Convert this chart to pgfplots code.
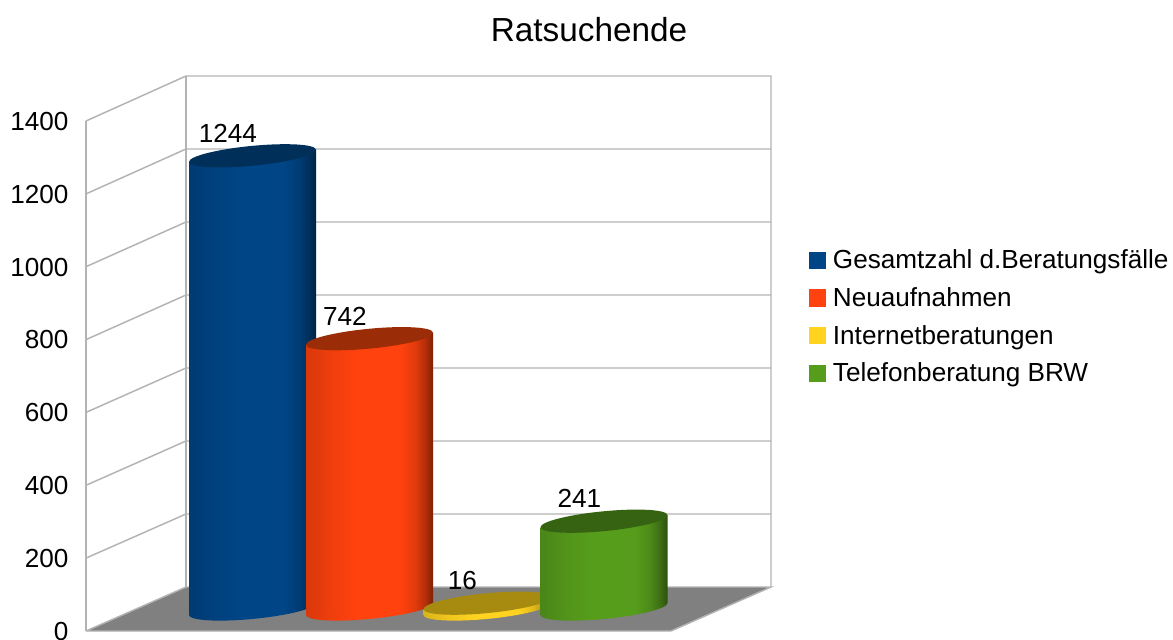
\documentclass[border=0pt]{standalone}
\usepackage{pgfplots}
\pgfplotsset{compat=1.18}
\usepackage{fontspec}
\setmainfont{Liberation Sans}
\newlength{\px}\setlength{\px}{0.75pt}
\definecolor{cBlue}{HTML}{004586}
\definecolor{cRed}{HTML}{FF420E}
\definecolor{cYel}{HTML}{FFD320}
\definecolor{cGrn}{HTML}{579D1C}
\definecolor{tBlue}{HTML}{00305A}
\definecolor{tRed}{HTML}{9A2C08}
\definecolor{tYel}{HTML}{A68B10}
\definecolor{tGrn}{HTML}{356312}
\definecolor{wallc}{HTML}{B3B3B3}
\newcommand{\cylshade}[2]{%
 \pgfdeclarehorizontalshading{#1}{100bp}{color(0bp)=(#2!85!black);color(25bp)=(#2!85!black);color(35bp)=(#2!94!black);color(45bp)=(#2);color(62bp)=(#2);color(68bp)=(#2!88!black);color(72bp)=(#2!70!black);color(75bp)=(#2!50!black);color(100bp)=(#2!50!black)}%
 \pgfdeclareplotmark{bot#1}{\pgfpathellipse{\pgfpointorigin}{\pgfqpoint{47.6pt}{4.6pt}}{\pgfqpoint{-0.7pt}{7.4pt}}\pgfshadepath{#1}{0}\pgfusepath{discard}}%
}
\cylshade{shBlue}{cBlue}
\cylshade{shRed}{cRed}
\cylshade{shYel}{cYel}
\cylshade{shGrn}{cGrn}
\pgfdeclareplotmark{cyltop}{\pgfpathellipse{\pgfpointorigin}{\pgfqpoint{47.6pt}{4.6pt}}{\pgfqpoint{-0.7pt}{7.4pt}}\pgfusepathqfill}
\pgfplotsset{
 fullpage/.style={width=1173\px,height=639\px,scale only axis,at={(0,0)},anchor=south west,hide axis},
 body/.style 2 args={ybar,bar width=95.25pt,bar shift=0pt,draw=none,shade,shading=#1,forget plot,
   /tikz/yslant=0.0966,/tikz/yshift={-0.0966*#2*0.75pt}},
 bottom/.style={only marks,mark=bot#1,forget plot},
 top/.style={only marks,mark=cyltop,mark options={fill=#1,draw=none},forget plot,
  nodes near coords,every node near coord/.append style={anchor=center,xshift=-18.4pt,yshift=16.9pt,font=\fontsize{19.6pt}{21pt}\selectfont,text=black}},
 leg/.style={fill=#1,draw=none,legend image code/.code={\fill[##1] (0pt,-6.4pt) rectangle (12.75pt,6.4pt);}}
}
\begin{document}
\begin{tikzpicture}
\path[use as bounding box] (0,0) rectangle (1173\px,639\px);
% walls and floor, in picture pixels
\begin{axis}[fullpage,clip=false,xmin=0,xmax=1173,ymin=0,ymax=639,y dir=reverse]
\addplot[draw=none,fill=black!50] coordinates {(86,631)(186,587)(771,587)(671,631)} -- cycle;
\addplot[wallc,line width=1.1pt] coordinates {(86,631)(186,587)(771,587)(671,631)(86,631)};
\addplot[wallc,line width=1.1pt] coordinates {(86,558.1)(186,514)(771,514)};
\addplot[wallc,line width=1.1pt] coordinates {(86,485.3)(186,441)(771,441)};
\addplot[wallc,line width=1.1pt] coordinates {(86,412.4)(186,368)(771,368)};
\addplot[wallc,line width=1.1pt] coordinates {(86,339.6)(186,295)(771,295)};
\addplot[wallc,line width=1.1pt] coordinates {(86,266.7)(186,222)(771,222)};
\addplot[wallc,line width=1.1pt] coordinates {(86,193.9)(186,149)(771,149)};
\addplot[wallc,line width=1.1pt] coordinates {(86,121)(186,76)(771,76)(771,587)};
\addplot[wallc,line width=1.1pt] coordinates {(186,76)(186,587)};
\end{axis}
% value axis
\begin{axis}[width=100\px,height=510\px,scale only axis,at={(86\px,8\px)},anchor=south west,
 ymin=0,ymax=1400,ytick={0,200,...,1400},xmin=0,xmax=1,
 hide x axis,axis y line*=left,y axis line style={wallc,line width=1.1pt,-},
 major tick length=0pt,/pgf/number format/assume math mode=true,/pgf/number format/1000 sep={},
 yticklabel style={font=\fontsize{19.6pt}{21pt}\selectfont,anchor=east,xshift=-13pt,yshift=-0.3pt,inner sep=0pt}]
\addplot[draw=none,forget plot] coordinates {(0,0)(1,1400)};
\end{axis}
% cylinders, legend and title
\begin{axis}[fullpage,clip mode=individual,xmin=0,xmax=1173,
 ymin=-82.36,ymax=1671.7,
 /pgf/number format/assume math mode=true,/pgf/number format/1000 sep={},
 title={Ratsuchende},
 title style={at={(589/1173,1-38/639)},anchor=center,font=\fontsize{25pt}{28pt}\selectfont},
 legend style={at={(809/1173,1-247/639)},anchor=north west,draw=none,fill=none,inner sep=0pt,
  font=\fontsize{19.6pt}{21pt}\selectfont,row sep=8.5pt,
  /tikz/every odd column/.append style={column sep=3pt}},
 legend cell align=left]
\addplot[bottom=shBlue] coordinates {(252.5,0)};
\addplot[body={shBlue}{252.5}] coordinates {(252.5,1244)};
\addplot[top=tBlue] coordinates {(252.5,1244)};
\addplot[bottom=shRed] coordinates {(369.5,0)};
\addplot[body={shRed}{369.5}] coordinates {(369.5,742)};
\addplot[top=tRed] coordinates {(369.5,742)};
\addplot[bottom=shYel] coordinates {(487,0)};
\addplot[body={shYel}{487}] coordinates {(487,16)};
\addplot[top=tYel] coordinates {(487,16)};
\addplot[bottom=shGrn] coordinates {(604,0)};
\addplot[body={shGrn}{604}] coordinates {(604,241)};
\addplot[top=tGrn] coordinates {(604,241)};
\addlegendimage{leg=cBlue}\addlegendentry{Gesamtzahl d.Beratungsfälle}
\addlegendimage{leg=cRed}\addlegendentry{Neuaufnahmen}
\addlegendimage{leg=cYel}\addlegendentry{Internetberatungen}
\addlegendimage{leg=cGrn}\addlegendentry{Telefonberatung BRW}
\end{axis}
\end{tikzpicture}
\end{document}
